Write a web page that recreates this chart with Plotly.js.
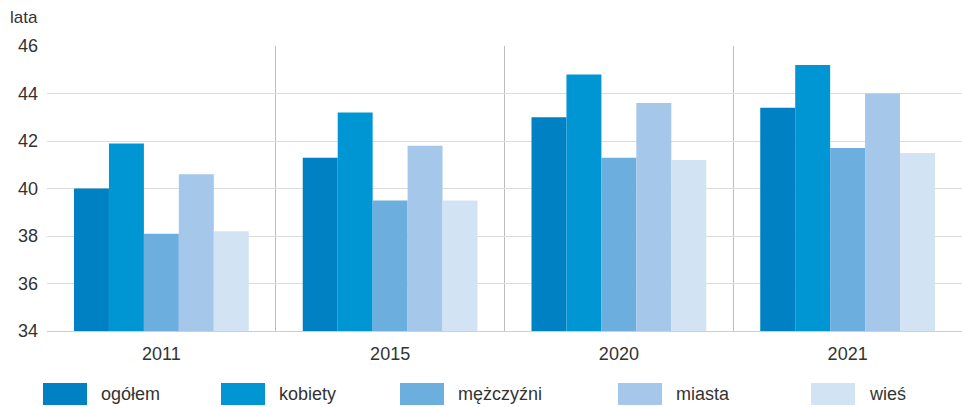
<!DOCTYPE html>
<html>
<head>
<meta charset="utf-8">
<script src="https://cdn.plot.ly/plotly-3.0.1.min.js"></script>
<style>
html,body{margin:0;padding:0;background:#fff;}
#chart{width:962px;height:407px;}
</style>
</head>
<body>
<div id="chart"></div>
<script>
var categories = ["2011", "2015", "2020", "2021"];
var seriesNames = ["ogółem", "kobiety", "mężczyźni", "miasta", "wieś"];
var ogolem = [40.0, 41.3, 43.0, 43.4];
var kobiety = [41.9, 43.2, 44.8, 45.2];
var mezczyzni = [38.1, 39.5, 41.3, 41.7];
var miasta = [40.6, 41.8, 43.6, 44.0];
var wies = [38.2, 39.5, 41.2, 41.5];
var yTicks = [34, 36, 38, 40, 42, 44, 46];
var yUnit = "lata";

var seriesValues = [ogolem, kobiety, mezczyzni, miasta, wies];
var colors = ["#0081C4", "#0096D4", "#6CAEDE", "#A5C7EA", "#D2E3F4"];
var legendX = [43, 221, 400, 618, 811];
var W = 962, H = 407, ML = 47, MR = 0, MT = 46, MB = 76;

var traces = seriesNames.map(function (name, i) {
  return {
    type: "bar",
    name: name,
    x: categories,
    y: seriesValues[i],
    marker: { color: colors[i], line: { width: 0 } },
    showlegend: false,
    hoverinfo: "x+y+name"
  };
});

var pw = W - ML - MR, ph = H - MT - MB;
var shapes = [], annotations = [];
seriesNames.forEach(function (name, i) {
  var x0 = (legendX[i] - ML) / pw, x1 = (legendX[i] + 44 - ML) / pw;
  var y0 = (H - MB - 405) / ph, y1 = (H - MB - 383) / ph;
  shapes.push({ type: "rect", xref: "paper", yref: "paper", x0: x0, x1: x1, y0: y0, y1: y1,
    fillcolor: colors[i], line: { width: 0 } });
  annotations.push({ xref: "paper", yref: "paper", x: (legendX[i] + 56 - ML) / pw,
    y: (H - MB - 394) / ph, xanchor: "left", yanchor: "middle", showarrow: false,
    text: name, font: { family: "Liberation Sans, Arial, sans-serif", size: 18, color: "#333" } });
});
annotations.push({ xref: "paper", yref: "paper", x: (8 - ML) / pw, y: (H - MB - 18) / ph,
  xanchor: "left", yanchor: "middle", showarrow: false, text: yUnit,
  font: { family: "Liberation Sans, Arial, sans-serif", size: 17, color: "#333" } });

var layout = {
  width: W, height: H,
  margin: { l: ML, r: MR, t: MT, b: MB, pad: 0 },
  paper_bgcolor: "#fff", plot_bgcolor: "#fff",
  barmode: "group", bargap: 0.236, bargroupgap: 0,
  font: { family: "Liberation Sans, Arial, sans-serif", size: 18, color: "#333" },
  xaxis: {
    type: "category", tickson: "boundaries", showgrid: true, gridcolor: "#bdbdbd", gridwidth: 1,
    ticks: "", showline: true, linecolor: "#cfcfcf", linewidth: 1, zeroline: false,
    tickfont: { size: 18, color: "#333" }, ticklabelstandoff: 6
  },
  yaxis: {
    range: [34, 46], tickvals: yTicks, ticktext: yTicks.map(String), showgrid: true,
    gridcolor: "#dcdcdc", gridwidth: 1, zeroline: false, showline: false, ticks: "",
    tickfont: { size: 18, color: "#333" }, ticklabelstandoff: 8
  },
  shapes: shapes,
  annotations: annotations,
  showlegend: false
};

Plotly.newPlot("chart", traces, layout, { displayModeBar: false, staticPlot: true });
</script>
</body>
</html>
